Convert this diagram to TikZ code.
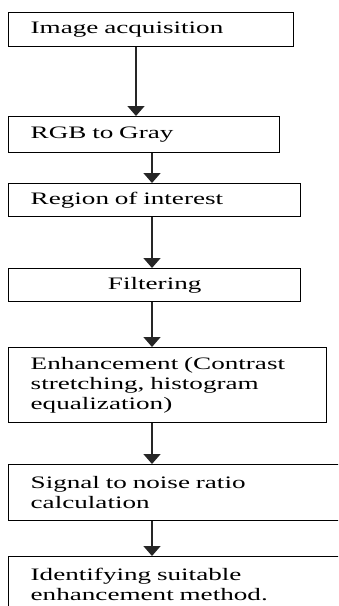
\documentclass[tikz,border=0pt]{standalone}
\usepackage{fontspec}
\setmainfont{Liberation Serif}[FakeStretch=1.55]
\usetikzlibrary{arrows.meta}

\tikzset{
  stepbox/.style={draw=black,line width=1.4pt,rectangle,anchor=north west,
    inner xsep=22pt,inner ysep=0pt,align=left,
    font=\fontsize{17.5}{20}\selectfont},
  flow/.style={line width=1.7pt,black!85,-{Triangle[length=10pt,width=17pt]}}
}

\begin{document}
\begin{tikzpicture}[x=1pt,y=-1pt]
        \clip (0,0) rectangle (338,606);
        \node[stepbox,minimum width=285pt,minimum height=34pt,text width=241pt] (acq) at (8,12) {Image acquisition};
        \node[stepbox,minimum width=271pt,minimum height=36pt,text width=227pt] (gray) at (8,116) {RGB to Gray};
        \node[stepbox,minimum width=292pt,minimum height=33pt,text width=248pt] (roi) at (8,183) {Region of interest};
        \node[stepbox,minimum width=292pt,minimum height=33pt,text width=248pt,align=center] (filt) at (8,268) {Filtering};
        \node[stepbox,minimum width=318pt,minimum height=75pt,text width=274pt] (enh) at (8,347) {Enhancement (Contrast\\ stretching, histogram\\ equalization)};
        \node[stepbox,minimum width=360pt,minimum height=56pt,text width=316pt] (snr) at (8,464) {Signal to noise ratio\\ calculation};
        \node[stepbox,minimum width=360pt,minimum height=56pt,text width=316pt] (best) at (8,556) {Identifying suitable\\ enhancement method.};
        % columns the arrows run down
        \coordinate (col1) at (136,0);
        \coordinate (col2) at (152,0);
        \draw[flow] (acq.south -| col1) -- (gray.north -| col1);
        \draw[flow] (gray.south -| col2) -- (roi.north -| col2);
        \draw[flow] (roi.south -| col2) -- (filt.north -| col2);
        \draw[flow] (filt.south -| col2) -- (enh.north -| col2);
        \draw[flow] (enh.south -| col2) -- (snr.north -| col2);
        \draw[flow] (snr.south -| col2) -- (best.north -| col2);
\end{tikzpicture}
\end{document}
